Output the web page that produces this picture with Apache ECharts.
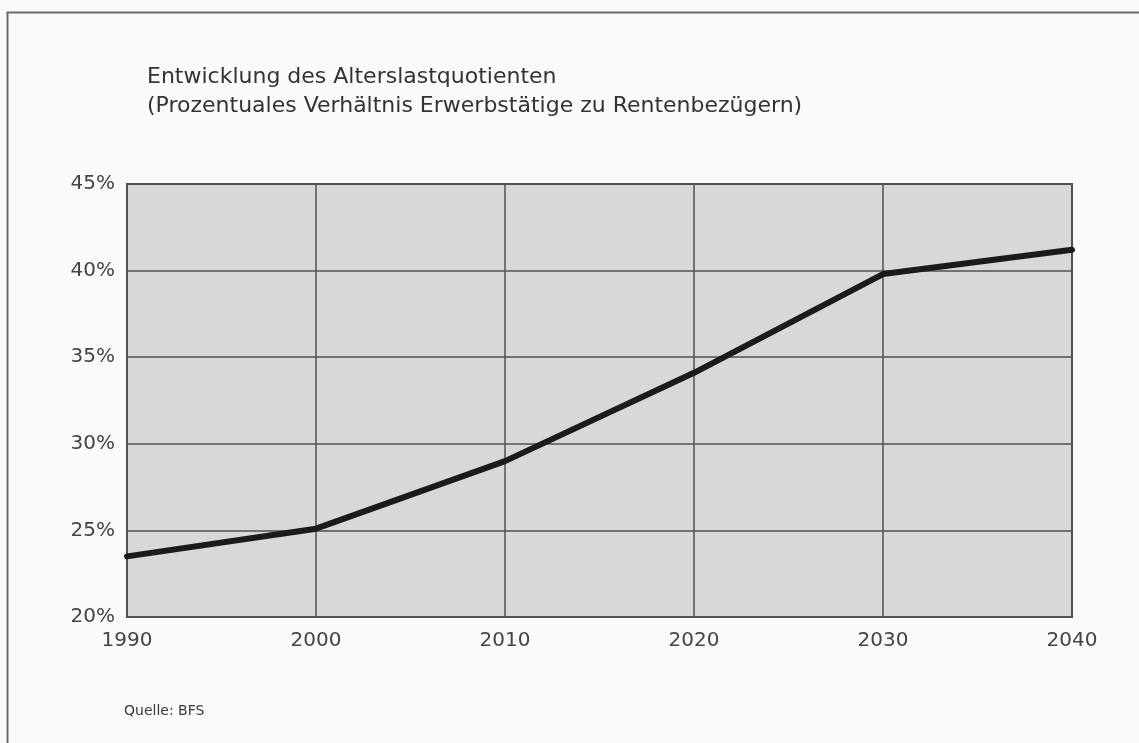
<!DOCTYPE html>
<html>
<head>
<meta charset="utf-8">
<script src="https://cdn.jsdelivr.net/npm/echarts@6/dist/echarts.min.js"></script>
<style>
  html, body { margin: 0; padding: 0; background: #fbfaf8; }
  #chart { width: 1139px; height: 743px; }
</style>
</head>
<body>
<div id="chart"></div>
<script>
// Alterslastquotient, Quelle: BFS
const years = [1990, 2000, 2010, 2020, 2030, 2040]
const quotient = [23.5, 25.1, 29.0, 34.1, 39.8, 41.2]
const yTicks = [20, 25, 30, 35, 40, 45]

const chart = echarts.init(document.getElementById('chart'))

const labelFont = 'DejaVu Sans, Liberation Sans, sans-serif'

chart.setOption({
  backgroundColor: '#fbfaf8',
  animation: false,
  title: [
    {
      text: 'Entwicklung des Alterslastquotienten\n(Prozentuales Verhältnis Erwerbstätige zu Rentenbezügern)',
      left: 147,
      top: 63,
      padding: 0,
      textStyle: {
        fontFamily: labelFont,
        fontSize: 22,
        fontWeight: 'normal',
        color: '#333',
        lineHeight: 29
      }
    },
    {
      text: 'Quelle: BFS',
      left: 124,
      top: 704,
      padding: 0,
      textStyle: {
        fontFamily: labelFont,
        fontSize: 14,
        fontWeight: 'normal',
        color: '#3a3a3a'
      }
    }
  ],
  graphic: [
    {
      type: 'rect',
      silent: true,
      shape: { x: 7.5, y: 12.5, width: 1200, height: 800 },
      style: { fill: null, stroke: '#6a6a66', lineWidth: 2 }
    }
  ],
  grid: {
    left: 127,
    right: 67,
    top: 184,
    bottom: 126,
    show: true,
    backgroundColor: '#d9d7d8',
    borderColor: '#505050',
    borderWidth: 2
  },
  xAxis: {
    type: 'value',
    min: years[0],
    max: years[years.length - 1],
    interval: 10,
    axisLine: { show: false },
    axisTick: { show: false },
    axisLabel: {
      margin: 14,
      fontFamily: labelFont,
      fontSize: 20,
      color: '#444',
      formatter: (v) => String(v)
    },
    splitLine: { show: true, lineStyle: { color: '#505050', width: 1.5 } }
  },
  yAxis: {
    type: 'value',
    min: yTicks[0],
    max: yTicks[yTicks.length - 1],
    interval: 5,
    axisLine: { show: false },
    axisTick: { show: false },
    axisLabel: {
      margin: 12,
      padding: [6, 0, 0, 0],
      fontFamily: labelFont,
      fontSize: 20,
      color: '#444',
      formatter: (v) => v + '%'
    },
    splitLine: { show: true, lineStyle: { color: '#505050', width: 1.5 } }
  },
  series: [
    {
      name: 'Alterslastquotient',
      type: 'line',
      data: years.map((y, i) => [y, quotient[i]]),
      showSymbol: false,
      lineStyle: { color: '#1b1b1b', width: 6, cap: 'round', join: 'round' }
    }
  ]
})
</script>
</body>
</html>
